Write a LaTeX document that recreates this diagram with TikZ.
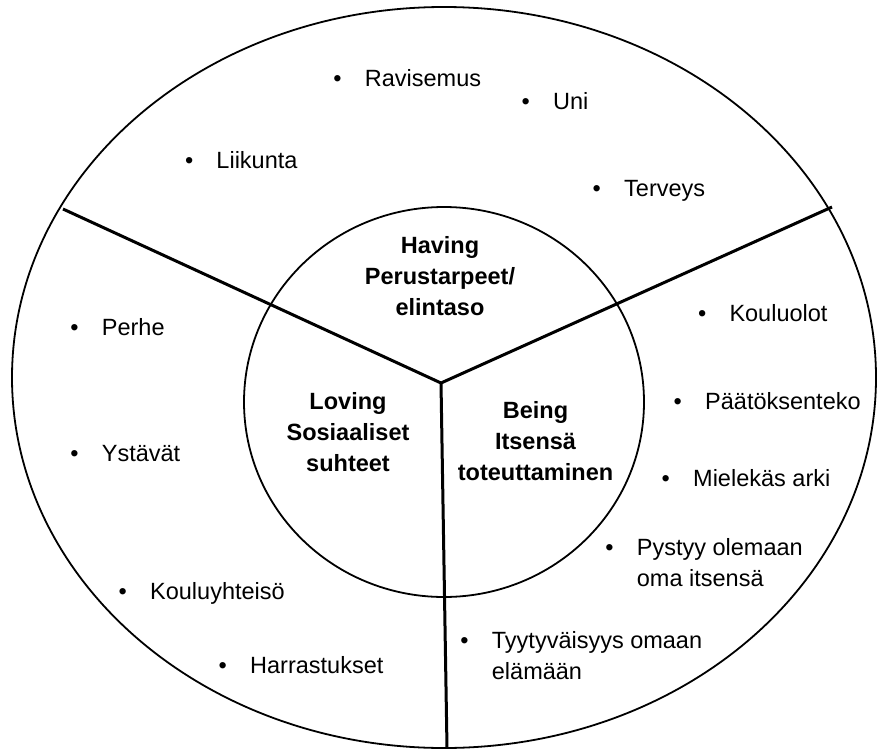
\documentclass[tikz,border=0pt]{standalone}
\usepackage{fontspec}
\setmainfont{Liberation Sans}
\usetikzlibrary{shapes.geometric}

% bullet hanging to the left of an item's first line
\newcommand{\itembullet}{\llap{\makebox[31.5pt][l]{•}}}

\tikzset{
  ring/.style={draw=black, line width=1.8pt, ellipse, inner sep=0pt},
  divider/.style={draw=black, line width=3pt, line cap=butt},
  % multi-line nodes sit on the baseline of their last line
  item/.style={anchor=base west, inner sep=0pt, align=left,
    font=\fontsize{23.5}{30.7}\selectfont},
  sectortitle/.style={anchor=base, inner sep=0pt, align=center,
    font=\fontsize{23.5}{31}\selectfont\bfseries},
}

\begin{document}
\begin{tikzpicture}[x=1pt, y=-1pt]
  \useasboundingbox (0,0) rectangle (877,749);
  \fill[white] (0,0) rectangle (877,749);

  % outer ring and inner circle
  \node[ring, minimum width=864pt, minimum height=741pt] (outer) at (444,377.5) {};
  \node[ring, minimum width=400pt, minimum height=390pt] (inner) at (444,402) {};

  % three sector dividers from the hub
  \coordinate (hub) at (441,383);
  \coordinate (endL) at (63,209);
  \coordinate (endR) at (832,207);
  \coordinate (endB) at (447,748);
  \draw[divider] (endL) -- (hub) -- (endR);
  \draw[divider] (hub) -- (endB);

  % sector titles
  \node[sectortitle] (having) at (440,315) {Having\\Perustarpeet/\\elintaso};
  \node[sectortitle] (loving) at (348,471.5) {Loving\\Sosiaaliset\\suhteet};
  \node[sectortitle] (being) at (535.5,480) {Being\\Itsensä\\toteuttaminen};

  % Having items
  \node[item] (ravisemus) at (364.7,86.7) {\itembullet Ravisemus};
  \node[item] (uni) at (553,110) {\itembullet Uni};
  \node[item] (liikunta) at (216.3,168.3) {\itembullet Liikunta};
  \node[item] (terveys) at (624,196.7) {\itembullet Terveys};

  % Loving items
  \node[item] (perhe) at (101.7,335) {\itembullet Perhe};
  \node[item] (ystavat) at (101.7,461.7) {\itembullet Ystävät};
  \node[item] (kouluyhteiso) at (150,599) {\itembullet Kouluyhteisö};
  \node[item] (harrastukset) at (250,673) {\itembullet Harrastukset};

  % Being items
  \node[item] (kouluolot) at (729.3,321.7) {\itembullet Kouluolot};
  \node[item] (paatoksenteko) at (705,409.3) {\itembullet Päätöksenteko};
  \node[item] (mielekas) at (693,486.7) {\itembullet Mielekäs arki};
  \node[item] (pystyy) at (636.7,586.5) {\itembullet Pystyy olemaan\\oma itsensä};
  \node[item] (tyytyvaisyys) at (491.7,679) {\itembullet Tyytyväisyys omaan\\elämään};
\end{tikzpicture}
\end{document}
